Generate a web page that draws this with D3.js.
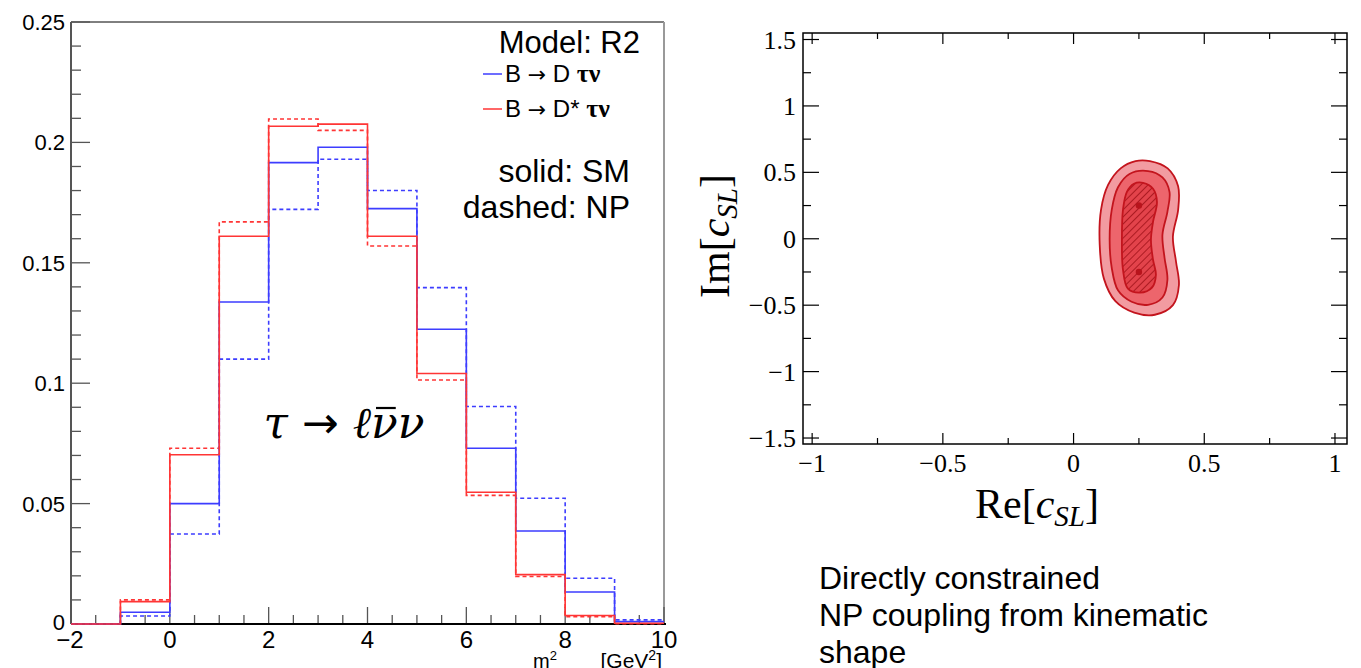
<!DOCTYPE html>
<html><head><meta charset="utf-8">
<script src="https://cdn.jsdelivr.net/npm/d3@7"></script>
<style>body{margin:0;background:#fff} svg{display:block}</style>
</head><body>
<svg id="c" width="1361" height="668"></svg>
<script>
// ---- m² histogram (normalised) ----
const binEdges = [-2, -1, 0, 1, 2, 3, 4, 5, 6, 7, 8, 9, 10];
const dTauSM  = [0, 0.0049, 0.0500, 0.1337, 0.1916, 0.1980, 0.1725, 0.1224, 0.0730, 0.0386, 0.0133, 0.0010];
const dTauNP  = [0, 0.0033, 0.0374, 0.1100, 0.1722, 0.1930, 0.1800, 0.1397, 0.0903, 0.0522, 0.0190, 0.0017];
const dsTauSM = [0, 0.0093, 0.0703, 0.1610, 0.2067, 0.2076, 0.1610, 0.1040, 0.0547, 0.0205, 0.0035, 0.0003];
const dsTauNP = [0, 0.0100, 0.0730, 0.1670, 0.2097, 0.2050, 0.1570, 0.1013, 0.0534, 0.0197, 0.0030, 0.0001];
const yTickLabels = ["0", "0.05", "0.1", "0.15", "0.2", "0.25"];
const xTickLabels = ["\u22122", "0", "2", "4", "6", "8", "10"];

// ---- c_SL likelihood contours (Re, Im) ----
const contourOuter = [[0.292,0.585],[0.360,0.530],[0.400,0.395],[0.400,0.218],[0.380,0.015],[0.392,-0.173],[0.403,-0.350],[0.380,-0.500],[0.311,-0.572],[0.232,-0.556],[0.160,-0.470],[0.116,-0.300],[0.100,-0.045],[0.105,0.218],[0.132,0.405],[0.180,0.530],[0.237,0.585]];
const contourMiddle = [[0.285,0.510],[0.340,0.462],[0.367,0.353],[0.359,0.203],[0.340,0.030],[0.348,-0.143],[0.359,-0.310],[0.340,-0.442],[0.285,-0.497],[0.222,-0.474],[0.170,-0.388],[0.146,-0.218],[0.138,-0.008],[0.146,0.218],[0.170,0.388],[0.214,0.488]];
const contourInner = [[0.266,0.421],[0.304,0.376],[0.319,0.278],[0.304,0.128],[0.296,-0.008],[0.304,-0.158],[0.315,-0.271],[0.300,-0.368],[0.254,-0.406],[0.208,-0.376],[0.189,-0.233],[0.185,-0.008],[0.189,0.218],[0.204,0.353],[0.231,0.414]];
const bestFit = [[0.25, 0.25], [0.25, -0.25]];
const reTickLabels = ["\u22121", "\u22120.5", "0", "0.5", "1"];
const imTickLabels = ["\u22121.5", "\u22121", "\u22120.5", "0", "0.5", "1", "1.5"];

const svg = d3.select("#c");
const SANS = "'Liberation Sans', Arial, Helvetica, sans-serif";
const SERIF = "'Liberation Serif', 'Times New Roman', serif";
const DJSANS = "'DejaVu Sans', sans-serif";
const BLUE = "#3d3dff", RED = "#ff3535";

// ================= left: histogram =================
const L = {x0: 71, x1: 664, y0: 22, y1: 624};
const x = d3.scaleLinear().domain([-2, 10]).range([L.x0, L.x1]);
const y = d3.scaleLinear().domain([0, 0.25]).range([L.y1, L.y0]);

const gL = svg.append("g");

// frame
gL.append("line").attr("x1", L.x0).attr("x2", L.x1).attr("y1", L.y0).attr("y2", L.y0)
  .attr("stroke", "#000").attr("stroke-width", 1);
gL.append("line").attr("x1", L.x1).attr("x2", L.x1).attr("y1", L.y0).attr("y2", L.y1)
  .attr("stroke", "#999").attr("stroke-width", 2);

// y ticks
const yTicks = d3.range(0, 26).map(i => i * 0.01);
gL.selectAll(".yt").data(yTicks).join("line")
  .attr("x1", L.x0).attr("x2", (d, i) => L.x0 + (i % 5 === 0 ? 19 : 10))
  .attr("y1", d => y(d)).attr("y2", d => y(d))
  .attr("stroke", "#555").attr("stroke-width", 1.3);
gL.selectAll(".yl").data(yTickLabels).join("text")
  .attr("x", 65).attr("y", (d, i) => y(i * 0.05) + 8 - (i === 0 ? 2 : 0))
  .attr("text-anchor", "end").attr("font-family", SANS).attr("font-size", 22)
  .text(d => d);

// x ticks
const xTicks = d3.range(0, 25).map(i => -2 + i * 0.5);
gL.selectAll(".xt").data(xTicks).join("line")
  .attr("x1", d => x(d)).attr("x2", d => x(d))
  .attr("y1", L.y1).attr("y2", (d, i) => L.y1 - (i % 4 === 0 ? 17 : 9))
  .attr("stroke", "#555").attr("stroke-width", 1.3);
gL.selectAll(".xl").data(xTickLabels).join("text")
  .attr("x", (d, i) => x(-2 + 2 * i) + (i === 0 ? -1 : 0)).attr("y", 648)
  .attr("text-anchor", "middle").attr("font-family", SANS).attr("font-size", 24)
  .text(d => d);

// axis lines
gL.append("line").attr("x1", L.x0).attr("x2", L.x0).attr("y1", L.y0).attr("y2", L.y1)
  .attr("stroke", "#555").attr("stroke-width", 2);
gL.append("line").attr("x1", L.x0).attr("x2", L.x1 + 2).attr("y1", L.y1).attr("y2", L.y1)
  .attr("stroke", "#000").attr("stroke-width", 2);

// x title: m²  [GeV²]
const xtM = gL.append("text").attr("x", 533).attr("y", 668)
  .attr("font-family", SANS).attr("font-size", 20);
xtM.append("tspan").text("m");
xtM.append("tspan").attr("dy", -8).attr("font-size", 13).text("2");
const xtU = gL.append("text").attr("x", 662).attr("y", 668).attr("text-anchor", "end")
  .attr("font-family", SANS).attr("font-size", 21);
xtU.append("tspan").text("[GeV");
xtU.append("tspan").attr("dy", -8).attr("font-size", 14).text("2");
xtU.append("tspan").attr("dy", 8).text("]");

// step histograms
function stepPath(vals) {
  const p = d3.path();
  p.moveTo(x(binEdges[0]), y(vals[0]));
  vals.forEach((v, i) => {
    p.lineTo(x(binEdges[i]), y(v));
    p.lineTo(x(binEdges[i + 1]), y(v));
  });
  return p.toString();
}
const series = [
  {vals: dTauNP, color: BLUE, dash: "4,3"},
  {vals: dsTauNP, color: RED, dash: "4,3"},
  {vals: dTauSM, color: BLUE, dash: null},
  {vals: dsTauSM, color: RED, dash: null}
];
series.forEach(s => {
  gL.append("path").attr("d", stepPath(s.vals)).attr("fill", "none")
    .attr("stroke", s.color).attr("stroke-width", 1.6)
    .attr("stroke-dasharray", s.dash);
});

// legend
gL.append("text").attr("x", 640).attr("y", 53).attr("text-anchor", "end")
  .attr("font-family", SANS).attr("font-size", 31).text("Model: R2");
const legend = [
  {color: BLUE, label: " D ", y: 74},
  {color: RED, label: " D* ", y: 109}
];
legend.forEach(l => {
  gL.append("line").attr("x1", 483).attr("x2", 502).attr("y1", l.y).attr("y2", l.y)
    .attr("stroke", l.color).attr("stroke-width", 1.5);
  const t = gL.append("text").attr("x", 505).attr("y", l.y + 8)
    .attr("font-family", SANS).attr("font-size", 24);
  t.append("tspan").text("B ");
  t.append("tspan").attr("font-family", DJSANS).attr("font-size", 22).text("\u2192");
  t.append("tspan").text(l.label);
  t.append("tspan").attr("font-family", SERIF).attr("font-weight", "bold").attr("font-size", 26).text("\u03C4\u03BD");
});
gL.append("text").attr("x", 630).attr("y", 182).attr("text-anchor", "end")
  .attr("font-family", SANS).attr("font-size", 32).text("solid: SM");
gL.append("text").attr("x", 630).attr("y", 218).attr("text-anchor", "end")
  .attr("font-family", SANS).attr("font-size", 32).text("dashed: NP");

// decay label τ → ℓ ν̄ ν
const dl = gL.append("text").attr("x", 344).attr("y", 438).attr("text-anchor", "middle")
  .attr("font-family", "'DejaVu Serif', serif").attr("font-size", 44).attr("font-style", "italic");
dl.append("tspan").text("\u03C4 ");
dl.append("tspan").attr("font-style", "normal").attr("font-family", DJSANS).text("\u2192");
dl.append("tspan").text(" \u2113\u03BD\u03BD");
{
  // macron over the antineutrino (6th character)
  const node = dl.node();
  const ex = node.getExtentOfChar(5);
  gL.append("line").attr("x1", ex.x + 5).attr("x2", ex.x + ex.width - 2)
    .attr("y1", 408).attr("y2", 408).attr("stroke", "#000").attr("stroke-width", 2.2);
}

// ================= right: c_SL plane =================
const R = {x0: 803, x1: 1347, y0: 33, y1: 444};
const rx = d3.scaleLinear().domain([-1.035, 1.046]).range([R.x0, R.x1]);
const ry = d3.scaleLinear().domain([-1.545, 1.549]).range([R.y1, R.y0]);
const gR = svg.append("g");

const defs = svg.append("defs");
const pat = defs.append("pattern").attr("id", "hatch").attr("patternUnits", "userSpaceOnUse")
  .attr("width", 5).attr("height", 5).attr("patternTransform", "rotate(-45)");
pat.append("rect").attr("width", 5).attr("height", 5).attr("fill", "#e3434b");
pat.append("line").attr("x1", 0).attr("x2", 5).attr("y1", 2.5).attr("y2", 2.5)
  .attr("stroke", "#9e1018").attr("stroke-width", 0.8);

const cLine = d3.line().x(d => rx(d[0])).y(d => ry(d[1])).curve(d3.curveCatmullRomClosed.alpha(0.5));
[[contourOuter, "#f29ba1"], [contourMiddle, "#ed656c"], [contourInner, "url(#hatch)"]].forEach(([pts, fill]) => {
  gR.append("path").attr("d", cLine(pts)).attr("fill", fill)
    .attr("stroke", "#c3141d").attr("stroke-width", 1.8);
});
gR.selectAll(".bf").data(bestFit).join("circle")
  .attr("cx", d => rx(d[0])).attr("cy", d => ry(d[1])).attr("r", 3.2).attr("fill", "#b8141c");

// frame
gR.append("rect").attr("x", R.x0).attr("y", R.y0).attr("width", R.x1 - R.x0).attr("height", R.y1 - R.y0)
  .attr("fill", "none").attr("stroke", "#000").attr("stroke-width", 1.5);

// ticks on all four sides
const reTicks = d3.range(-4, 5).map(i => i * 0.25);
const imTicks = d3.range(-6, 7).map(i => i * 0.25);
const isMajor = v => Math.abs(v * 2 - Math.round(v * 2)) < 1e-6;
reTicks.forEach(v => {
  const len = isMajor(v) ? 11 : 6;
  gR.append("line").attr("x1", rx(v)).attr("x2", rx(v)).attr("y1", R.y1).attr("y2", R.y1 - len)
    .attr("stroke", "#000").attr("stroke-width", 1.2);
  gR.append("line").attr("x1", rx(v)).attr("x2", rx(v)).attr("y1", R.y0).attr("y2", R.y0 + len)
    .attr("stroke", "#000").attr("stroke-width", 1.2);
});
imTicks.forEach(v => {
  const len = isMajor(v) ? 16 : 8;
  gR.append("line").attr("x1", R.x0).attr("x2", R.x0 + len).attr("y1", ry(v)).attr("y2", ry(v))
    .attr("stroke", "#000").attr("stroke-width", 1.2);
  gR.append("line").attr("x1", R.x1).attr("x2", R.x1 - len).attr("y1", ry(v)).attr("y2", ry(v))
    .attr("stroke", "#000").attr("stroke-width", 1.2);
});
gR.selectAll(".rl").data(reTickLabels).join("text")
  .attr("x", (d, i) => rx(-1 + 0.5 * i)).attr("y", 472)
  .attr("text-anchor", "middle").attr("font-family", SERIF).attr("font-size", 26)
  .text(d => d);
gR.selectAll(".il").data(imTickLabels).join("text")
  .attr("x", 796).attr("y", (d, i) => ry(-1.5 + 0.5 * i) + 9)
  .attr("text-anchor", "end").attr("font-family", SERIF).attr("font-size", 26)
  .text(d => d);

// axis titles
function cslTitle(t, pre) {
  t.append("tspan").text(pre + "[");
  t.append("tspan").attr("font-style", "italic").text("c");
  t.append("tspan").attr("font-style", "italic").attr("font-size", 29).attr("dy", 8).text("SL");
  t.append("tspan").attr("dy", -8).text("]");
}
cslTitle(gR.append("text").attr("x", 1037).attr("y", 518).attr("text-anchor", "middle")
  .attr("font-family", SERIF).attr("font-size", 42), "Re");
cslTitle(gR.append("text").attr("transform", "translate(729,236) rotate(-90)").attr("text-anchor", "middle")
  .attr("font-family", SERIF).attr("font-size", 42), "Im");

// caption
const cap = ["Directly constrained", "NP coupling from kinematic", "shape"];
svg.selectAll(".cap").data(cap).join("text")
  .attr("x", 819).attr("y", (d, i) => 589 + i * 37)
  .attr("font-family", SANS).attr("font-size", 32).text(d => d);
</script>
</body></html>
